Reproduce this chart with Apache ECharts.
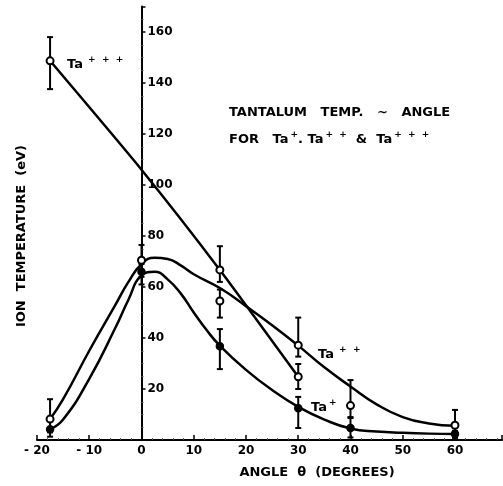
<!DOCTYPE html>
<html><head><meta charset="utf-8">
<script src="https://cdn.jsdelivr.net/npm/echarts@6/dist/echarts.min.js"></script>
<style>html,body{margin:0;padding:0;background:#fff}#c{width:503px;height:486px}</style>
</head><body><div id="c"></div>
<script>
// ---- data ----
const xTickLabels = [-20, -10, 0, 10, 20, 30, 40, 50, 60];
const yTickLabels = [20, 40, 60, 80, 100, 120, 140, 160];

// Ta+ (filled circles)
const anglesP = [-17.5, 0, 15, 30, 40, 60];
const taP = [4.2, 66, 36.8, 12.5, 4.7, 2.4];
const taPLow = [1.3, 61, 27.8, 4.7, 1, 0.8];
const taPHigh = [8, 69, 43.5, 16.9, 9, 3.6];
// Ta+ fitted curve
const curveAnglesP = [-17.5, -15, -10, -5, -2.5, 0, 2.5, 5, 7.5, 10, 12.5, 15, 20, 25, 30, 35, 40, 45, 50, 55, 60];
const curveP = [4.2, 8, 24, 44, 55, 64.5, 66, 63, 57.5, 50, 43, 37, 27.5, 19.6, 13, 8, 4.5, 3.3, 2.8, 2.5, 2.4];

// Ta++ (open circles)
const anglesPP = [-17.5, 0, 15, 30, 40, 60];
const taPP = [8.2, 70.5, 54.5, 37.2, 13.5, 5.8];
const taPPLow = [3, 64, 48, 32.7, 8.6, 1];
const taPPHigh = [16, 76.5, 59, 48, 23.5, 11.8];
// Ta++ fitted curve
const curveAnglesPP = [-17.5, -15, -10, -5, -2.5, 0, 2.5, 5, 7.5, 10, 15, 20, 25, 30, 35, 40, 45, 50, 55, 60];
const curvePP = [8.2, 16, 35, 53, 62, 69, 71.5, 71, 68.5, 65, 59.6, 52.5, 45, 37, 28.5, 21, 14, 9, 6.5, 5.6];

// Ta+++ (open circles)
const anglesPPP = [-17.5, 15, 30];
const taPPP = [148.7, 66.7, 24.8];
const taPPPLow = [137.6, 62, 20];
const taPPPHigh = [158, 76, 29.8];
// Ta+++ fitted curve
const curveAnglesPPP = [-17.5, 0, 15, 30];
const curvePPP = [148.7, 106, 66.7, 24.8];

const zip = (a, b) => a.map((v, i) => [v, b[i]]);
const zip3 = (a, b, c) => a.map((v, i) => [v, b[i], c[i]]);

function errRender(params, api) {
  const x = api.value(0), lo = api.value(1), hi = api.value(2);
  const p1 = api.coord([x, lo]), p2 = api.coord([x, hi]);
  const w = 3;
  const st = { stroke: '#000', lineWidth: 2 };
  return { type: 'group', children: [
    { type: 'line', shape: { x1: p1[0], y1: p1[1], x2: p2[0], y2: p2[1] }, style: st },
    { type: 'line', shape: { x1: p1[0] - w, y1: p1[1], x2: p1[0] + w, y2: p1[1] }, style: st },
    { type: 'line', shape: { x1: p2[0] - w, y1: p2[1], x2: p2[0] + w, y2: p2[1] }, style: st }
  ]};
}

const FONT = 'DejaVu Sans';
const txt = { fontFamily: FONT, fontWeight: 'bold', color: '#000' };
const rich = {
  b: { fontFamily: FONT, fontWeight: 'bold', fontSize: 13, color: '#000', lineHeight: 16, verticalAlign: 'bottom' },
  s: { fontFamily: FONT, fontWeight: 'bold', fontSize: 9, color: '#000', lineHeight: 16, verticalAlign: 'top', padding: [0, 0, 0, 2] }
};

const GRID_LEFT = 37, GRID_RIGHT = 1, X_MIN = -20, X_MAX = 69;
const plotW = 503 - GRID_LEFT - GRID_RIGHT;
const yAxisOffset = -plotW * (0 - X_MIN) / (X_MAX - X_MIN); // place y axis at angle 0

const chart = echarts.init(document.getElementById('c'), null, { renderer: 'canvas' });
chart.setOption({
  animation: false,
  backgroundColor: '#fff',
  grid: { left: GRID_LEFT, right: GRID_RIGHT, top: 6.5, bottom: 46, containLabel: false },
  xAxis: {
    type: 'value', min: X_MIN, max: X_MAX, interval: 10,
    axisLine: { onZero: false, lineStyle: { color: '#000', width: 2 } },
    axisTick: { show: true, inside: true, length: 5, lineStyle: { color: '#000', width: 1.5 } },
    minorTick: { show: true, splitNumber: 5, length: 2, lineStyle: { color: '#555', width: 1 } },
    splitLine: { show: false },
    axisLabel: {
      ...txt, fontSize: 12, margin: 5, showMaxLabel: false,
      formatter: v => xTickLabels.includes(v) ? String(v).replace('-', '- ') : ''
    }
  },
  yAxis: {
    type: 'value', min: 0, max: 170, interval: 20, position: 'left', offset: yAxisOffset,
    axisLine: { onZero: false, lineStyle: { color: '#000', width: 2 } },
    axisTick: { show: true, inside: true, length: 4, lineStyle: { color: '#000', width: 1.5 } },
    minorTick: { show: true, splitNumber: 4, length: 2, lineStyle: { color: '#555', width: 1 } },
    splitLine: { show: false },
    axisLabel: {
      ...txt, fontSize: 12, inside: true, margin: 6, showMaxLabel: false,
      formatter: v => yTickLabels.includes(v) ? String(v) : ''
    }
  },
  series: [
    { type: 'line', data: zip(curveAnglesP, curveP), smooth: 0.5, symbol: 'none',
      lineStyle: { color: '#000', width: 2.5 }, z: 2 },
    { type: 'line', data: zip(curveAnglesPP, curvePP), smooth: 0.5, symbol: 'none',
      lineStyle: { color: '#000', width: 2.5 }, z: 2 },
    { type: 'line', data: zip(curveAnglesPPP, curvePPP), smooth: 0.2, symbol: 'none',
      lineStyle: { color: '#000', width: 2.5 }, z: 2 },
    { type: 'custom', renderItem: errRender, data: zip3(anglesP, taPLow, taPHigh), z: 3 },
    { type: 'custom', renderItem: errRender, data: zip3(anglesPP, taPPLow, taPPHigh), z: 3 },
    { type: 'custom', renderItem: errRender, data: zip3(anglesPPP, taPPPLow, taPPPHigh), z: 3 },
    { type: 'scatter', data: zip(anglesP, taP), symbol: 'circle', symbolSize: 7,
      itemStyle: { color: '#000', borderColor: '#000', borderWidth: 1.5, opacity: 1 }, z: 4 },
    { type: 'scatter', data: zip(anglesPP, taPP), symbol: 'circle', symbolSize: 7,
      itemStyle: { color: '#fff', borderColor: '#000', borderWidth: 2, opacity: 1 }, z: 4 },
    { type: 'scatter', data: zip(anglesPPP, taPPP), symbol: 'circle', symbolSize: 7,
      itemStyle: { color: '#fff', borderColor: '#000', borderWidth: 2, opacity: 1 }, z: 4 }
  ],
  graphic: [
    { type: 'text', x: 22, y: 236, rotation: Math.PI / 2,
      style: { text: 'ION  TEMPERATURE  (eV)', fill: '#000', font: 'bold 13px "DejaVu Sans"', align: 'center', verticalAlign: 'middle' } },
    { type: 'text', x: 317, y: 473,
      style: { text: 'ANGLE  θ  (DEGREES)', fill: '#000', font: 'bold 13px "DejaVu Sans"', align: 'center', verticalAlign: 'middle' } },
    { type: 'text', x: 229, y: 113,
      style: { text: 'TANTALUM   TEMP.   ~   ANGLE', fill: '#000', font: 'bold 13px "DejaVu Sans"', align: 'left', verticalAlign: 'middle' } },
    { type: 'text', x: 229, y: 138,
      style: { text: '{b|FOR   Ta}{s|+}{b|. Ta}{s|+  +}{b|  &  Ta}{s|+  +  +}', rich: rich, align: 'left', verticalAlign: 'middle' } },
    { type: 'text', x: 67, y: 63,
      style: { text: '{b|Ta}{s| +  +  +}', rich: rich, align: 'left', verticalAlign: 'middle' } },
    { type: 'text', x: 318, y: 353,
      style: { text: '{b|Ta}{s| +  +}', rich: rich, align: 'left', verticalAlign: 'middle' } },
    { type: 'text', x: 311, y: 406,
      style: { text: '{b|Ta}{s|+}', rich: rich, align: 'left', verticalAlign: 'middle' } }
  ]
});
</script></body></html>
